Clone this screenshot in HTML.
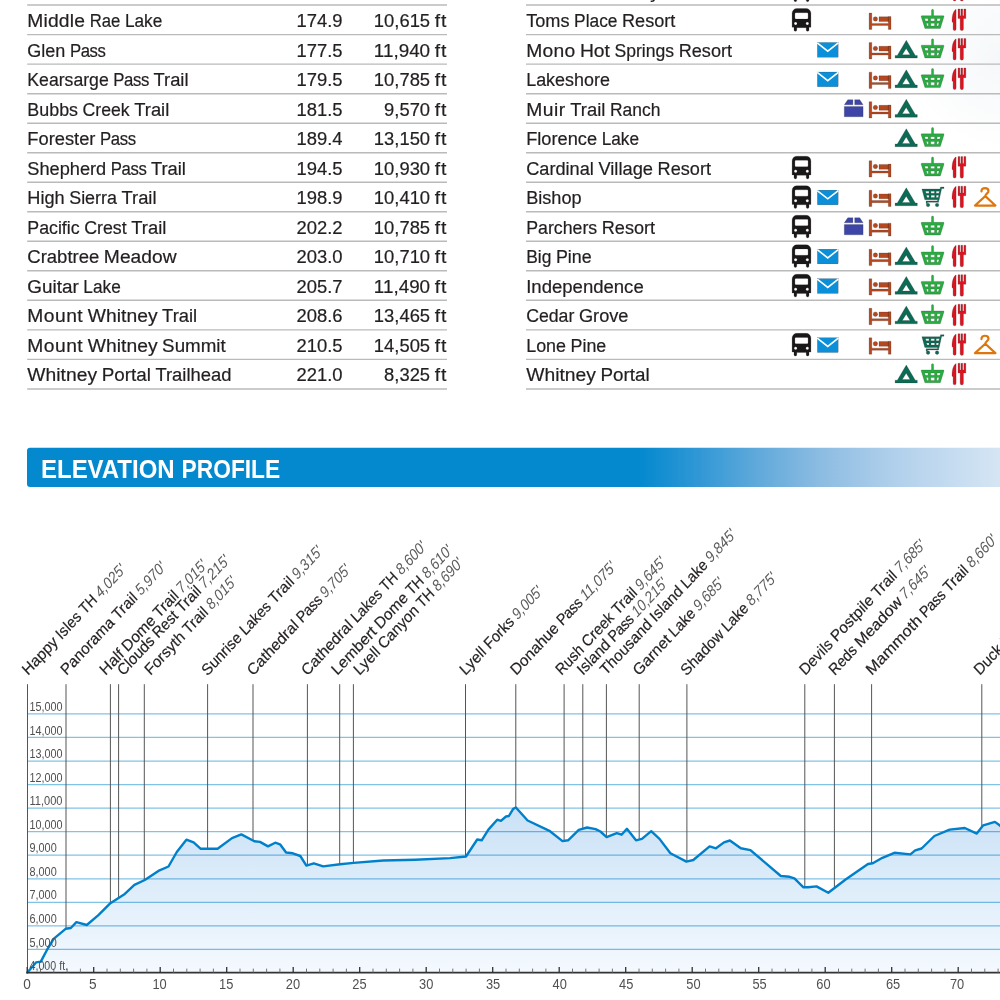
<!DOCTYPE html>
<html lang="en">
<head>
<meta charset="utf-8">
<title>John Muir Trail – Elevation Profile</title>
<style>
html,body{margin:0;padding:0;background:#fff;}
body{width:1000px;height:1000px;overflow:hidden;position:relative;font-family:"Liberation Sans",sans-serif;color:#231f20;}
#page{position:absolute;left:0;top:0;width:1000px;height:1000px;display:block;}
svg text{font-family:"Liberation Sans",sans-serif;white-space:pre;}
.tt{font-size:18px;fill:#231f20;stroke:#231f20;stroke-width:.2px;}
.hd{font-size:25px;font-weight:bold;fill:#fff;}
.yl{font-size:12.6px;fill:#505050;}
.xl{font-size:14.4px;fill:#505050;text-anchor:middle;}
.ln{font-size:14.95px;fill:#231f20;stroke:#231f20;stroke-width:.18px;}
.le{font-style:italic;fill:#5c5c5c;stroke:none;}
</style>
</head>
<body>

<svg id="page" width="1000" height="1000" viewBox="0 0 1000 1000">
<defs>
<linearGradient id="hb" x1="640" y1="0" x2="1000" y2="0" gradientUnits="userSpaceOnUse">
<stop offset="0" stop-color="#0489cf"/><stop offset="0.167" stop-color="#3298d5"/><stop offset="0.333" stop-color="#62aadb"/><stop offset="0.5" stop-color="#8cbce2"/><stop offset="0.72" stop-color="#b3d1ec"/><stop offset="1" stop-color="#d5e5f4"/>
</linearGradient>
<linearGradient id="pf" x1="0" y1="805" x2="0" y2="973" gradientUnits="userSpaceOnUse">
<stop offset="0" stop-color="#c9e1f6"/><stop offset="1" stop-color="#f4f9fe"/>
</linearGradient>
<radialGradient id="wm" cx="1000" cy="58" r="90" gradientUnits="userSpaceOnUse">
<stop offset="0" stop-color="#f5f8fa"/><stop offset="0.55" stop-color="#fafbfc"/><stop offset="1" stop-color="#ffffff"/>
</radialGradient>
<symbol id="i-bus" overflow="visible">
<path transform="translate(0 -.2)" fill="#1a1718" fill-rule="evenodd" d="M796.8 3.7h9.4a4.7 4.7 0 0 1 4.7 4.7V22.4H809V25a1.4 1.4 0 0 1-2.8 0V22.8H796.8V25a1.4 1.4 0 0 1-2.8 0V22.4H792.1V8.4a4.7 4.7 0 0 1 4.7-4.7zM795.9 7.8a1 1 0 0 0-1 1V13.2a1 1 0 0 0 1 1H807.1a1 1 0 0 0 1-1V8.8a1 1 0 0 0-1-1zM795.6 17.2a1.5 1.5 0 1 0 .01 0zM807.3 17.2a1.5 1.5 0 1 0 .01 0z"/>
</symbol>
<symbol id="i-mail" overflow="visible">
<rect x="817.4" y="7.9" width="20.7" height="14.7" fill="#0a8fd8"/>
<path d="M817.2 8.3L827.75 16.6L838.3 8.3" fill="none" stroke="#fff" stroke-width="1.6"/>
</symbol>
<symbol id="i-box" overflow="visible">
<path fill="#3d46a8" d="M847.8 6h5.1v5.1h-8.6zM854.7 6h5.1l3.3 5.1h-8.4zM844.3 12.8h18.8v10.3h-18.8z"/>
</symbol>
<symbol id="i-bed" overflow="visible">
<path fill="#b5481f" d="M869.1 8h2.7V18.3H888.3V11.4H891V24.3H888.3V20.4H871.8V24.3H869.1zM879 11.7h9.4v4.8H879z"/>
<circle cx="875.4" cy="13.8" r="2.25" fill="#b5481f"/>
</symbol>
<symbol id="i-tent" overflow="visible">
<path fill="#0d6a55" fill-rule="evenodd" d="M906.3 5.6L915.3 20.8H917.3V23.5H895.1V20.8H897.3zM906.2 13.9L902.3 20.2H910.1z"/>
</symbol>
<symbol id="i-basket" overflow="visible">
<path fill="#28ad41" fill-rule="evenodd" d="M931.5 5.3a1.05 1.05 0 0 1 2.1 0V10.6h9.6a.8 .8 0 0 1 .75 1.1L940.3 23.35H924.9L921.2 11.7a.8 .8 0 0 1 .75-1.1h9.55zM924.6 13.5l.75 2.4h2.8l-.1-2.4zM930.7 13.5v2.4h3.9v-2.4zM937.1 13.5l-.1 2.4h2.8l.75-2.4zM926.3 18.2l.8 2.8h1.3l-.1-2.8zM930.7 18.2l.1 2.8h3.7l.1-2.8zM936.9 18.2l-.1 2.8h1.5l.8-2.8z"/>
</symbol>
<symbol id="i-cart" overflow="visible">
<path fill="#0d6a55" fill-rule="evenodd" d="M921.9 6.8H940.1L940.5 4.8H944V6.3H941.7L939.2 17.6H938.9L938.7 18.8V20.1H927.4V21.3H926.1V18.8H937.4L937.6 17.6H924.8zM925.5 9l.55 2h3l-.1-2zM930.9 9v2h3.6v-2zM936.2 9l-.1 2h2.8l.55-2zM926.5 13.1l.6 2.1h2l-.1-2.1zM931 13.1l.05 2.1h3.6l.05-2.1zM936.3 13.1l-.1 2.1h2.1l.5-2.1z"/>
<circle cx="928.05" cy="22.8" r="1.8" fill="#0d6a55"/><circle cx="937.05" cy="22.8" r="1.8" fill="#0d6a55"/>
</symbol>
<symbol id="i-fork" overflow="visible">
<path fill="#dc1420" d="M956.1 4.3V23.9a1.5 1.5 0 0 1-3 0V17.6L952 16.6C952 11 953 6.5 955.6 4.3zM958.05 3.9h1.8v6.8h1.05V3.9h1.8v6.8h1.2V3.9h1.95v9.6h-2.4V23.9a1.65 1.65 0 0 1-3.3 0V13.5h-2.1z"/>
</symbol>
<symbol id="i-hanger" overflow="visible">
<path fill="none" stroke="#de760e" stroke-width="2.2" stroke-linejoin="round" stroke-linecap="round" d="M981.5 9.2C981.3 7 983 5.9 985 5.9C987.2 5.9 988.5 7.2 988.5 8.9C988.5 10.9 985.6 11.4 985.3 13.9L975 23.3H995.4L985.3 13.9"/>
</symbol>

</defs>
<rect x="905" y="6" width="95" height="140" fill="url(#wm)"/>
<g id="rules" stroke="#bababa" stroke-width="1.45" fill="none"><path d="M27.2 5.08H447M526 5.08H1000"/><path d="M27.2 34.60H447M526 34.60H1000"/><path d="M27.2 64.13H447M526 64.13H1000"/><path d="M27.2 93.65H447M526 93.65H1000"/><path d="M27.2 123.18H447M526 123.18H1000"/><path d="M27.2 152.71H447M526 152.71H1000"/><path d="M27.2 182.23H447M526 182.23H1000"/><path d="M27.2 211.75H447M526 211.75H1000"/><path d="M27.2 241.28H447M526 241.28H1000"/><path d="M27.2 270.80H447M526 270.80H1000"/><path d="M27.2 300.33H447M526 300.33H1000"/><path d="M27.2 329.85H447M526 329.85H1000"/><path d="M27.2 359.38H447M526 359.38H1000"/><path d="M27.2 388.90H447M526 388.90H1000"/></g>
<g id="waypoints" class="tt">
<text y="27.08"><tspan x="27.30" textLength="57.82" lengthAdjust="spacingAndGlyphs" style="letter-spacing:0.17px">Middle</tspan> <tspan x="89.69" textLength="30.69" lengthAdjust="spacingAndGlyphs">Rae</tspan> <tspan x="124.95" textLength="37.40" lengthAdjust="spacingAndGlyphs">Lake</tspan></text><text y="27.08"><tspan x="296.55" textLength="46.05" lengthAdjust="spacingAndGlyphs">174.9</tspan></text><text y="27.08"><tspan x="373.87" textLength="56.23" lengthAdjust="spacingAndGlyphs">10,615</tspan> <tspan x="434.66" textLength="12.54" lengthAdjust="spacingAndGlyphs" style="letter-spacing:0.85px">ft</tspan></text>
<text y="56.60"><tspan x="27.30" textLength="38.04" lengthAdjust="spacingAndGlyphs">Glen</tspan> <tspan x="69.91" textLength="35.62" lengthAdjust="spacingAndGlyphs" style="letter-spacing:-0.43px">Pass</tspan></text><text y="56.60"><tspan x="296.55" textLength="46.05" lengthAdjust="spacingAndGlyphs">177.5</tspan></text><text y="56.60"><tspan x="373.87" textLength="56.23" lengthAdjust="spacingAndGlyphs">11,940</tspan> <tspan x="434.66" textLength="12.54" lengthAdjust="spacingAndGlyphs" style="letter-spacing:0.85px">ft</tspan></text>
<text y="86.13"><tspan x="27.30" textLength="81.44" lengthAdjust="spacingAndGlyphs">Kearsarge</tspan> <tspan x="113.31" textLength="35.62" lengthAdjust="spacingAndGlyphs" style="letter-spacing:-0.43px">Pass</tspan> <tspan x="153.49" textLength="35.04" lengthAdjust="spacingAndGlyphs">Trail</tspan></text><text y="86.13"><tspan x="296.55" textLength="46.05" lengthAdjust="spacingAndGlyphs">179.5</tspan></text><text y="86.13"><tspan x="373.87" textLength="56.23" lengthAdjust="spacingAndGlyphs">10,785</tspan> <tspan x="434.66" textLength="12.54" lengthAdjust="spacingAndGlyphs" style="letter-spacing:0.85px">ft</tspan></text>
<text y="115.65"><tspan x="27.30" textLength="50.73" lengthAdjust="spacingAndGlyphs">Bubbs</tspan> <tspan x="82.59" textLength="47.10" lengthAdjust="spacingAndGlyphs">Creek</tspan> <tspan x="134.26" textLength="35.04" lengthAdjust="spacingAndGlyphs">Trail</tspan></text><text y="115.65"><tspan x="296.55" textLength="46.05" lengthAdjust="spacingAndGlyphs">181.5</tspan></text><text y="115.65"><tspan x="384.10" textLength="45.99" lengthAdjust="spacingAndGlyphs">9,570</tspan> <tspan x="434.66" textLength="12.54" lengthAdjust="spacingAndGlyphs" style="letter-spacing:0.85px">ft</tspan></text>
<text y="145.18"><tspan x="27.30" textLength="68.19" lengthAdjust="spacingAndGlyphs">Forester</tspan> <tspan x="100.06" textLength="35.62" lengthAdjust="spacingAndGlyphs" style="letter-spacing:-0.43px">Pass</tspan></text><text y="145.18"><tspan x="296.55" textLength="46.05" lengthAdjust="spacingAndGlyphs">189.4</tspan></text><text y="145.18"><tspan x="373.87" textLength="56.23" lengthAdjust="spacingAndGlyphs">13,150</tspan> <tspan x="434.66" textLength="12.54" lengthAdjust="spacingAndGlyphs" style="letter-spacing:0.85px">ft</tspan></text>
<text y="174.71"><tspan x="27.30" textLength="78.88" lengthAdjust="spacingAndGlyphs">Shepherd</tspan> <tspan x="110.74" textLength="35.62" lengthAdjust="spacingAndGlyphs" style="letter-spacing:-0.43px">Pass</tspan> <tspan x="150.93" textLength="35.04" lengthAdjust="spacingAndGlyphs">Trail</tspan></text><text y="174.71"><tspan x="296.55" textLength="46.05" lengthAdjust="spacingAndGlyphs">194.5</tspan></text><text y="174.71"><tspan x="373.87" textLength="56.23" lengthAdjust="spacingAndGlyphs">10,930</tspan> <tspan x="434.66" textLength="12.54" lengthAdjust="spacingAndGlyphs" style="letter-spacing:0.85px">ft</tspan></text>
<text y="204.23"><tspan x="27.30" textLength="37.34" lengthAdjust="spacingAndGlyphs">High</tspan> <tspan x="69.21" textLength="47.73" lengthAdjust="spacingAndGlyphs">Sierra</tspan> <tspan x="121.50" textLength="35.04" lengthAdjust="spacingAndGlyphs">Trail</tspan></text><text y="204.23"><tspan x="296.55" textLength="46.05" lengthAdjust="spacingAndGlyphs">198.9</tspan></text><text y="204.23"><tspan x="373.87" textLength="56.23" lengthAdjust="spacingAndGlyphs">10,410</tspan> <tspan x="434.66" textLength="12.54" lengthAdjust="spacingAndGlyphs" style="letter-spacing:0.85px">ft</tspan></text>
<text y="233.75"><tspan x="27.30" textLength="52.33" lengthAdjust="spacingAndGlyphs">Pacific</tspan> <tspan x="84.20" textLength="42.53" lengthAdjust="spacingAndGlyphs">Crest</tspan> <tspan x="131.30" textLength="35.04" lengthAdjust="spacingAndGlyphs">Trail</tspan></text><text y="233.75"><tspan x="296.55" textLength="46.05" lengthAdjust="spacingAndGlyphs">202.2</tspan></text><text y="233.75"><tspan x="373.87" textLength="56.23" lengthAdjust="spacingAndGlyphs">10,785</tspan> <tspan x="434.66" textLength="12.54" lengthAdjust="spacingAndGlyphs" style="letter-spacing:0.85px">ft</tspan></text>
<text y="263.28"><tspan x="27.30" textLength="72.01" lengthAdjust="spacingAndGlyphs">Crabtree</tspan> <tspan x="103.88" textLength="72.70" lengthAdjust="spacingAndGlyphs">Meadow</tspan></text><text y="263.28"><tspan x="296.55" textLength="46.05" lengthAdjust="spacingAndGlyphs">203.0</tspan></text><text y="263.28"><tspan x="373.87" textLength="56.23" lengthAdjust="spacingAndGlyphs">10,710</tspan> <tspan x="434.66" textLength="12.54" lengthAdjust="spacingAndGlyphs" style="letter-spacing:0.85px">ft</tspan></text>
<text y="292.80"><tspan x="27.30" textLength="51.48" lengthAdjust="spacingAndGlyphs">Guitar</tspan> <tspan x="83.34" textLength="37.40" lengthAdjust="spacingAndGlyphs">Lake</tspan></text><text y="292.80"><tspan x="296.55" textLength="46.05" lengthAdjust="spacingAndGlyphs">205.7</tspan></text><text y="292.80"><tspan x="373.87" textLength="56.23" lengthAdjust="spacingAndGlyphs">11,490</tspan> <tspan x="434.66" textLength="12.54" lengthAdjust="spacingAndGlyphs" style="letter-spacing:0.85px">ft</tspan></text>
<text y="322.33"><tspan x="27.30" textLength="55.91" lengthAdjust="spacingAndGlyphs" style="letter-spacing:0.45px">Mount</tspan> <tspan x="87.78" textLength="69.79" lengthAdjust="spacingAndGlyphs" style="letter-spacing:0.03px">Whitney</tspan> <tspan x="162.14" textLength="35.04" lengthAdjust="spacingAndGlyphs">Trail</tspan></text><text y="322.33"><tspan x="296.55" textLength="46.05" lengthAdjust="spacingAndGlyphs">208.6</tspan></text><text y="322.33"><tspan x="373.87" textLength="56.23" lengthAdjust="spacingAndGlyphs">13,465</tspan> <tspan x="434.66" textLength="12.54" lengthAdjust="spacingAndGlyphs" style="letter-spacing:0.85px">ft</tspan></text>
<text y="351.85"><tspan x="27.30" textLength="55.91" lengthAdjust="spacingAndGlyphs" style="letter-spacing:0.45px">Mount</tspan> <tspan x="87.78" textLength="69.79" lengthAdjust="spacingAndGlyphs" style="letter-spacing:0.03px">Whitney</tspan> <tspan x="162.14" textLength="63.57" lengthAdjust="spacingAndGlyphs">Summit</tspan></text><text y="351.85"><tspan x="296.55" textLength="46.05" lengthAdjust="spacingAndGlyphs">210.5</tspan></text><text y="351.85"><tspan x="373.87" textLength="56.23" lengthAdjust="spacingAndGlyphs">14,505</tspan> <tspan x="434.66" textLength="12.54" lengthAdjust="spacingAndGlyphs" style="letter-spacing:0.85px">ft</tspan></text>
<text y="381.38"><tspan x="27.30" textLength="69.79" lengthAdjust="spacingAndGlyphs" style="letter-spacing:0.03px">Whitney</tspan> <tspan x="101.66" textLength="49.21" lengthAdjust="spacingAndGlyphs">Portal</tspan> <tspan x="155.43" textLength="76.00" lengthAdjust="spacingAndGlyphs">Trailhead</tspan></text><text y="381.38"><tspan x="296.55" textLength="46.05" lengthAdjust="spacingAndGlyphs">221.0</tspan></text><text y="381.38"><tspan x="384.10" textLength="45.99" lengthAdjust="spacingAndGlyphs">8,325</tspan> <tspan x="434.66" textLength="12.54" lengthAdjust="spacingAndGlyphs" style="letter-spacing:0.85px">ft</tspan></text>
</g>
<g id="resupply" class="tt">
<text y="-2.45"><tspan x="526.20" textLength="79.86" lengthAdjust="spacingAndGlyphs" style="letter-spacing:0.07px">Vermilion</tspan> <tspan x="610.63" textLength="49.01" lengthAdjust="spacingAndGlyphs">Valley</tspan> <tspan x="664.21" textLength="53.38" lengthAdjust="spacingAndGlyphs">Resort</tspan></text><use href="#i-bus" y="-24.45"/><use href="#i-fork" y="-24.45"/>
<text y="27.08"><tspan x="526.20" textLength="43.35" lengthAdjust="spacingAndGlyphs">Toms</tspan> <tspan x="574.12" textLength="43.34" lengthAdjust="spacingAndGlyphs">Place</tspan> <tspan x="622.02" textLength="53.38" lengthAdjust="spacingAndGlyphs">Resort</tspan></text><use href="#i-bus" y="5.08"/><use href="#i-bed" y="5.08"/><use href="#i-basket" y="5.08"/><use href="#i-fork" y="5.08"/>
<text y="56.60"><tspan x="526.20" textLength="49.19" lengthAdjust="spacingAndGlyphs" style="letter-spacing:0.23px">Mono</tspan> <tspan x="579.95" textLength="30.00" lengthAdjust="spacingAndGlyphs">Hot</tspan> <tspan x="614.53" textLength="59.59" lengthAdjust="spacingAndGlyphs">Springs</tspan> <tspan x="678.69" textLength="53.38" lengthAdjust="spacingAndGlyphs">Resort</tspan></text><use href="#i-mail" y="34.60"/><use href="#i-bed" y="34.60"/><use href="#i-tent" y="34.60"/><use href="#i-basket" y="34.60"/><use href="#i-fork" y="34.60"/>
<text y="86.13"><tspan x="526.20" textLength="83.66" lengthAdjust="spacingAndGlyphs">Lakeshore</tspan></text><use href="#i-mail" y="64.13"/><use href="#i-bed" y="64.13"/><use href="#i-tent" y="64.13"/><use href="#i-basket" y="64.13"/><use href="#i-fork" y="64.13"/>
<text y="115.65"><tspan x="526.20" textLength="39.56" lengthAdjust="spacingAndGlyphs" style="letter-spacing:0.49px">Muir</tspan> <tspan x="570.33" textLength="35.04" lengthAdjust="spacingAndGlyphs">Trail</tspan> <tspan x="609.94" textLength="50.41" lengthAdjust="spacingAndGlyphs">Ranch</tspan></text><use href="#i-box" y="93.65"/><use href="#i-bed" y="93.65"/><use href="#i-tent" y="93.65"/>
<text y="145.18"><tspan x="526.20" textLength="70.87" lengthAdjust="spacingAndGlyphs">Florence</tspan> <tspan x="601.63" textLength="37.40" lengthAdjust="spacingAndGlyphs">Lake</tspan></text><use href="#i-tent" y="123.18"/><use href="#i-basket" y="123.18"/>
<text y="174.71"><tspan x="526.20" textLength="67.66" lengthAdjust="spacingAndGlyphs">Cardinal</tspan> <tspan x="598.43" textLength="54.60" lengthAdjust="spacingAndGlyphs">Village</tspan> <tspan x="657.60" textLength="53.38" lengthAdjust="spacingAndGlyphs">Resort</tspan></text><use href="#i-bus" y="152.71"/><use href="#i-bed" y="152.71"/><use href="#i-basket" y="152.71"/><use href="#i-fork" y="152.71"/>
<text y="204.23"><tspan x="526.20" textLength="55.40" lengthAdjust="spacingAndGlyphs">Bishop</tspan></text><use href="#i-bus" y="182.23"/><use href="#i-mail" y="182.23"/><use href="#i-bed" y="182.23"/><use href="#i-tent" y="182.23"/><use href="#i-cart" y="182.23"/><use href="#i-fork" y="182.23"/><use href="#i-hanger" y="182.23"/>
<text y="233.75"><tspan x="526.20" textLength="71.01" lengthAdjust="spacingAndGlyphs">Parchers</tspan> <tspan x="601.77" textLength="53.38" lengthAdjust="spacingAndGlyphs">Resort</tspan></text><use href="#i-bus" y="211.75"/><use href="#i-box" y="211.75"/><use href="#i-bed" y="211.75"/><use href="#i-basket" y="211.75"/>
<text y="263.28"><tspan x="526.20" textLength="25.13" lengthAdjust="spacingAndGlyphs">Big</tspan> <tspan x="555.90" textLength="35.73" lengthAdjust="spacingAndGlyphs">Pine</tspan></text><use href="#i-bus" y="241.28"/><use href="#i-mail" y="241.28"/><use href="#i-bed" y="241.28"/><use href="#i-tent" y="241.28"/><use href="#i-basket" y="241.28"/><use href="#i-fork" y="241.28"/>
<text y="292.80"><tspan x="526.20" textLength="117.51" lengthAdjust="spacingAndGlyphs">Independence</tspan></text><use href="#i-bus" y="270.80"/><use href="#i-mail" y="270.80"/><use href="#i-bed" y="270.80"/><use href="#i-tent" y="270.80"/><use href="#i-basket" y="270.80"/><use href="#i-fork" y="270.80"/>
<text y="322.33"><tspan x="526.20" textLength="48.15" lengthAdjust="spacingAndGlyphs">Cedar</tspan> <tspan x="578.92" textLength="49.61" lengthAdjust="spacingAndGlyphs">Grove</tspan></text><use href="#i-bed" y="300.33"/><use href="#i-tent" y="300.33"/><use href="#i-basket" y="300.33"/><use href="#i-fork" y="300.33"/>
<text y="351.85"><tspan x="526.20" textLength="39.81" lengthAdjust="spacingAndGlyphs">Lone</tspan> <tspan x="570.57" textLength="35.73" lengthAdjust="spacingAndGlyphs">Pine</tspan></text><use href="#i-bus" y="329.85"/><use href="#i-mail" y="329.85"/><use href="#i-bed" y="329.85"/><use href="#i-cart" y="329.85"/><use href="#i-fork" y="329.85"/><use href="#i-hanger" y="329.85"/>
<text y="381.38"><tspan x="526.20" textLength="69.79" lengthAdjust="spacingAndGlyphs" style="letter-spacing:0.03px">Whitney</tspan> <tspan x="600.56" textLength="49.21" lengthAdjust="spacingAndGlyphs">Portal</tspan></text><use href="#i-tent" y="359.38"/><use href="#i-basket" y="359.38"/><use href="#i-fork" y="359.38"/>
</g>
<path d="M30 447.8H1010V487H30a3 3 0 0 1-3-3V450.8a3 3 0 0 1 3-3z" fill="url(#hb)"/>
<text class="hd" y="477.6"><tspan x="41.0" textLength="133.6" lengthAdjust="spacingAndGlyphs">ELEVATION</tspan> <tspan x="181.6" textLength="98.6" lengthAdjust="spacingAndGlyphs">PROFILE</tspan></text>
<g stroke="#80c3e7" stroke-width="1.25" fill="none"><path d="M27.4 713.90H1000"/><path d="M27.4 737.45H1000"/><path d="M27.4 761.00H1000"/><path d="M27.4 784.55H1000"/><path d="M27.4 808.10H1000"/><path d="M27.4 831.65H1000"/><path d="M27.4 855.20H1000"/><path d="M27.4 878.75H1000"/><path d="M27.4 902.30H1000"/><path d="M27.4 925.85H1000"/><path d="M27.4 949.40H1000"/></g>
<polygon points="27.4,972.6 36.0,962.4 40.8,961.6 47.6,948.8 53.6,938.8 65.6,928.8 70.8,928.0 76.4,922.2 86.8,925.0 98.4,915.2 110.4,903.2 124.8,893.9 134.4,884.8 144.8,880.0 158.4,870.9 168.5,866.5 176.8,852.0 186.4,839.7 193.6,842.4 200.8,848.8 217.6,848.8 232.0,838.1 241.3,834.4 254.4,841.3 260.0,841.9 268.0,846.4 275.2,842.7 280.0,844.3 286.1,852.5 292.8,853.3 300.3,856.0 306.4,865.6 313.8,863.3 323.2,866.4 340.0,864.3 353.6,862.9 383.2,860.5 415.2,859.7 450.0,858.1 466.0,856.5 477.2,839.5 481.7,840.3 488.4,829.6 497.2,819.7 500.9,820.8 506.0,816.5 508.9,816.0 513.2,808.8 515.9,807.5 527.6,820.5 550.0,831.2 562.5,841.1 568.1,840.3 578.8,829.9 587.1,827.5 595.6,829.1 600.4,831.5 606.6,837.1 616.8,833.1 621.6,834.7 626.9,828.8 636.0,840.3 641.9,838.9 651.2,831.2 659.5,838.9 670.4,853.3 686.4,861.6 693.3,860.0 709.6,846.4 716.0,848.3 724.0,842.4 729.9,840.5 740.8,848.3 750.4,850.1 780.8,876.0 789.6,876.8 794.4,878.4 803.2,887.2 808.0,887.2 816.5,886.4 828.3,892.8 845.6,879.5 868.0,864.0 872.8,863.3 882.4,857.8 894.4,852.8 910.4,854.4 915.2,850.4 921.6,848.5 934.4,836.0 949.6,829.6 964.8,828.0 976.8,833.6 983.2,825.3 994.9,821.9 1000.0,825.6 1006.0,832.0 1006,972.6 27.4,972.6" fill="url(#pf)" style="mix-blend-mode:multiply"/>
<g stroke="#555" stroke-width="1" fill="none"><path d="M27.5 684.2V972.6"/><path d="M66.0 684.2V928.7"/><path d="M110.4 684.2V903.2"/><path d="M118.6 684.2V897.9"/><path d="M144.3 684.2V880.2"/><path d="M207.6 684.2V848.8"/><path d="M253.0 684.2V840.6"/><path d="M307.4 684.2V865.3"/><path d="M339.7 684.2V864.3"/><path d="M353.4 684.2V862.9"/><path d="M465.5 684.2V856.5"/><path d="M515.8 684.2V807.5"/><path d="M564.1 684.2V840.9"/><path d="M582.8 684.2V828.7"/><path d="M606.4 684.2V836.9"/><path d="M639.2 684.2V839.5"/><path d="M686.9 684.2V861.5"/><path d="M804.8 684.2V887.2"/><path d="M834.4 684.2V888.1"/><path d="M871.6 684.2V863.5"/><path d="M981.8 684.2V827.1"/></g>
<polyline points="27.4,972.6 36.0,962.4 40.8,961.6 47.6,948.8 53.6,938.8 65.6,928.8 70.8,928.0 76.4,922.2 86.8,925.0 98.4,915.2 110.4,903.2 124.8,893.9 134.4,884.8 144.8,880.0 158.4,870.9 168.5,866.5 176.8,852.0 186.4,839.7 193.6,842.4 200.8,848.8 217.6,848.8 232.0,838.1 241.3,834.4 254.4,841.3 260.0,841.9 268.0,846.4 275.2,842.7 280.0,844.3 286.1,852.5 292.8,853.3 300.3,856.0 306.4,865.6 313.8,863.3 323.2,866.4 340.0,864.3 353.6,862.9 383.2,860.5 415.2,859.7 450.0,858.1 466.0,856.5 477.2,839.5 481.7,840.3 488.4,829.6 497.2,819.7 500.9,820.8 506.0,816.5 508.9,816.0 513.2,808.8 515.9,807.5 527.6,820.5 550.0,831.2 562.5,841.1 568.1,840.3 578.8,829.9 587.1,827.5 595.6,829.1 600.4,831.5 606.6,837.1 616.8,833.1 621.6,834.7 626.9,828.8 636.0,840.3 641.9,838.9 651.2,831.2 659.5,838.9 670.4,853.3 686.4,861.6 693.3,860.0 709.6,846.4 716.0,848.3 724.0,842.4 729.9,840.5 740.8,848.3 750.4,850.1 780.8,876.0 789.6,876.8 794.4,878.4 803.2,887.2 808.0,887.2 816.5,886.4 828.3,892.8 845.6,879.5 868.0,864.0 872.8,863.3 882.4,857.8 894.4,852.8 910.4,854.4 915.2,850.4 921.6,848.5 934.4,836.0 949.6,829.6 964.8,828.0 976.8,833.6 983.2,825.3 994.9,821.9 1000.0,825.6 1006.0,832.0" fill="none" stroke="#0080cb" stroke-width="2.4" stroke-linejoin="round" stroke-linecap="round"/>
<g fill="none" stroke="#333"><path d="M26.4 972.6H1000" stroke-width="1.6"/><path d="M27.2 966.9V972.6M93.7 966.9V972.6M160.2 966.9V972.6M226.7 966.9V972.6M293.2 966.9V972.6M359.7 966.9V972.6M426.2 966.9V972.6M492.7 966.9V972.6M559.2 966.9V972.6M625.7 966.9V972.6M692.2 966.9V972.6M758.7 966.9V972.6M825.2 966.9V972.6M891.7 966.9V972.6M958.2 966.9V972.6" stroke-width="1.3"/><path d="M40.5 968.6V972.6M53.8 968.6V972.6M67.1 968.6V972.6M80.4 968.6V972.6M107.0 968.6V972.6M120.3 968.6V972.6M133.6 968.6V972.6M146.9 968.6V972.6M173.5 968.6V972.6M186.8 968.6V972.6M200.1 968.6V972.6M213.4 968.6V972.6M240.0 968.6V972.6M253.3 968.6V972.6M266.6 968.6V972.6M279.9 968.6V972.6M306.5 968.6V972.6M319.8 968.6V972.6M333.1 968.6V972.6M346.4 968.6V972.6M373.0 968.6V972.6M386.3 968.6V972.6M399.6 968.6V972.6M412.9 968.6V972.6M439.5 968.6V972.6M452.8 968.6V972.6M466.1 968.6V972.6M479.4 968.6V972.6M506.0 968.6V972.6M519.3 968.6V972.6M532.6 968.6V972.6M545.9 968.6V972.6M572.5 968.6V972.6M585.8 968.6V972.6M599.1 968.6V972.6M612.4 968.6V972.6M639.0 968.6V972.6M652.3 968.6V972.6M665.6 968.6V972.6M678.9 968.6V972.6M705.5 968.6V972.6M718.8 968.6V972.6M732.1 968.6V972.6M745.4 968.6V972.6M772.0 968.6V972.6M785.3 968.6V972.6M798.6 968.6V972.6M811.9 968.6V972.6M838.5 968.6V972.6M851.8 968.6V972.6M865.1 968.6V972.6M878.4 968.6V972.6M905.0 968.6V972.6M918.3 968.6V972.6M931.6 968.6V972.6M944.9 968.6V972.6M971.5 968.6V972.6M984.8 968.6V972.6M998.1 968.6V972.6M1011.4 968.6V972.6" stroke-width="0.9" stroke="#666"/></g>
<g class="yl"><text x="29.5" y="711.0" textLength="33.0" lengthAdjust="spacingAndGlyphs">15,000</text><text x="29.5" y="734.5" textLength="33.0" lengthAdjust="spacingAndGlyphs">14,000</text><text x="29.5" y="758.1" textLength="33.0" lengthAdjust="spacingAndGlyphs">13,000</text><text x="29.5" y="781.6" textLength="33.0" lengthAdjust="spacingAndGlyphs">12,000</text><text x="29.5" y="805.2" textLength="33.0" lengthAdjust="spacingAndGlyphs">11,000</text><text x="29.5" y="828.8" textLength="33.0" lengthAdjust="spacingAndGlyphs">10,000</text><text x="29.5" y="852.3" textLength="27.2" lengthAdjust="spacingAndGlyphs">9,000</text><text x="29.5" y="875.9" textLength="27.2" lengthAdjust="spacingAndGlyphs">8,000</text><text x="29.5" y="899.4" textLength="27.2" lengthAdjust="spacingAndGlyphs">7,000</text><text x="29.5" y="923.0" textLength="27.2" lengthAdjust="spacingAndGlyphs">6,000</text><text x="29.5" y="946.5" textLength="27.2" lengthAdjust="spacingAndGlyphs">5,000</text><text x="29.5" y="969.6" textLength="38.6" lengthAdjust="spacingAndGlyphs">4,000 ft.</text></g>
<g class="xl"><text x="27.10" y="988.9" textLength="7.6" lengthAdjust="spacingAndGlyphs">0</text><text x="92.90" y="988.9" textLength="7.6" lengthAdjust="spacingAndGlyphs">5</text><text x="159.60" y="988.9" textLength="14.3" lengthAdjust="spacingAndGlyphs">10</text><text x="226.25" y="988.9" textLength="14.3" lengthAdjust="spacingAndGlyphs">15</text><text x="292.90" y="988.9" textLength="14.3" lengthAdjust="spacingAndGlyphs">20</text><text x="359.40" y="988.9" textLength="14.3" lengthAdjust="spacingAndGlyphs">25</text><text x="426.25" y="988.9" textLength="14.3" lengthAdjust="spacingAndGlyphs">30</text><text x="493.10" y="988.9" textLength="14.3" lengthAdjust="spacingAndGlyphs">35</text><text x="559.75" y="988.9" textLength="14.3" lengthAdjust="spacingAndGlyphs">40</text><text x="626.25" y="988.9" textLength="14.3" lengthAdjust="spacingAndGlyphs">45</text><text x="693.40" y="988.9" textLength="14.3" lengthAdjust="spacingAndGlyphs">50</text><text x="759.60" y="988.9" textLength="14.3" lengthAdjust="spacingAndGlyphs">55</text><text x="823.40" y="988.9" textLength="14.3" lengthAdjust="spacingAndGlyphs">60</text><text x="893.10" y="988.9" textLength="14.3" lengthAdjust="spacingAndGlyphs">65</text><text x="957.10" y="988.9" textLength="14.3" lengthAdjust="spacingAndGlyphs">70</text></g>
<g class="ln">
<g transform="translate(28.1 676.0) scale(1 1.072) rotate(-45)"><text><tspan x="0.00" textLength="43.51" lengthAdjust="spacingAndGlyphs">Happy</tspan> <tspan x="47.29" textLength="29.41" lengthAdjust="spacingAndGlyphs">Isles</tspan> <tspan x="80.47" textLength="18.54" lengthAdjust="spacingAndGlyphs">TH</tspan></text><text class="le" x="102.62" textLength="36.50" lengthAdjust="spacingAndGlyphs">4,025&#x27;</text></g>
<g transform="translate(66.4 676.0) scale(1 1.072) rotate(-45)"><text><tspan x="0.00" textLength="69.12" lengthAdjust="spacingAndGlyphs">Panorama</tspan> <tspan x="72.90" textLength="28.97" lengthAdjust="spacingAndGlyphs">Trail</tspan></text><text class="le" x="105.47" textLength="36.50" lengthAdjust="spacingAndGlyphs">5,970&#x27;</text></g>
<g transform="translate(105.6 676.0) scale(1 1.072) rotate(-45)"><text><tspan x="0.00" textLength="27.33" lengthAdjust="spacingAndGlyphs">Half</tspan> <tspan x="31.11" textLength="40.73" lengthAdjust="spacingAndGlyphs">Dome</tspan> <tspan x="75.61" textLength="28.97" lengthAdjust="spacingAndGlyphs">Trail</tspan></text><text class="le" x="108.19" textLength="36.50" lengthAdjust="spacingAndGlyphs">7,015&#x27;</text></g>
<g transform="translate(123.3 676.5) scale(1 1.072) rotate(-45)"><text><tspan x="0.00" textLength="45.62" lengthAdjust="spacingAndGlyphs">Clouds</tspan> <tspan x="49.40" textLength="29.50" lengthAdjust="spacingAndGlyphs">Rest</tspan> <tspan x="82.68" textLength="28.97" lengthAdjust="spacingAndGlyphs">Trail</tspan></text><text class="le" x="115.25" textLength="36.50" lengthAdjust="spacingAndGlyphs">7,215&#x27;</text></g>
<g transform="translate(150.4 676.0) scale(1 1.072) rotate(-45)"><text><tspan x="0.00" textLength="50.27" lengthAdjust="spacingAndGlyphs">Forsyth</tspan> <tspan x="54.05" textLength="28.97" lengthAdjust="spacingAndGlyphs">Trail</tspan></text><text class="le" x="86.62" textLength="36.50" lengthAdjust="spacingAndGlyphs">8,015&#x27;</text></g>
<g transform="translate(207.6 676.5) scale(1 1.072) rotate(-45)"><text><tspan x="0.00" textLength="49.72" lengthAdjust="spacingAndGlyphs">Sunrise</tspan> <tspan x="53.49" textLength="37.45" lengthAdjust="spacingAndGlyphs">Lakes</tspan> <tspan x="94.72" textLength="28.97" lengthAdjust="spacingAndGlyphs">Trail</tspan></text><text class="le" x="127.29" textLength="36.50" lengthAdjust="spacingAndGlyphs">9,315&#x27;</text></g>
<g transform="translate(252.9 676.5) scale(1 1.072) rotate(-45)"><text><tspan x="0.00" textLength="66.01" lengthAdjust="spacingAndGlyphs">Cathedral</tspan> <tspan x="69.78" textLength="29.45" lengthAdjust="spacingAndGlyphs" style="letter-spacing:-0.39px">Pass</tspan></text><text class="le" x="102.83" textLength="36.50" lengthAdjust="spacingAndGlyphs">9,705&#x27;</text></g>
<g transform="translate(307.3 676.5) scale(1 1.072) rotate(-45)"><text><tspan x="0.00" textLength="66.01" lengthAdjust="spacingAndGlyphs">Cathedral</tspan> <tspan x="69.78" textLength="37.45" lengthAdjust="spacingAndGlyphs">Lakes</tspan> <tspan x="111.01" textLength="18.54" lengthAdjust="spacingAndGlyphs">TH</tspan></text><text class="le" x="133.16" textLength="36.50" lengthAdjust="spacingAndGlyphs">8,600&#x27;</text></g>
<g transform="translate(337.2 676.0) scale(1 1.072) rotate(-45)"><text><tspan x="0.00" textLength="57.17" lengthAdjust="spacingAndGlyphs">Lembert</tspan> <tspan x="60.95" textLength="40.73" lengthAdjust="spacingAndGlyphs">Dome</tspan> <tspan x="105.45" textLength="18.54" lengthAdjust="spacingAndGlyphs">TH</tspan></text><text class="le" x="127.59" textLength="36.50" lengthAdjust="spacingAndGlyphs">8,610&#x27;</text></g>
<g transform="translate(359.6 676.0) scale(1 1.072) rotate(-45)"><text><tspan x="0.00" textLength="30.39" lengthAdjust="spacingAndGlyphs">Lyell</tspan> <tspan x="34.17" textLength="50.82" lengthAdjust="spacingAndGlyphs">Canyon</tspan> <tspan x="88.76" textLength="18.54" lengthAdjust="spacingAndGlyphs">TH</tspan></text><text class="le" x="110.90" textLength="36.50" lengthAdjust="spacingAndGlyphs">8,690&#x27;</text></g>
<g transform="translate(465.6 676.0) scale(1 1.072) rotate(-45)"><text><tspan x="0.00" textLength="30.39" lengthAdjust="spacingAndGlyphs">Lyell</tspan> <tspan x="34.17" textLength="35.94" lengthAdjust="spacingAndGlyphs">Forks</tspan></text><text class="le" x="73.70" textLength="36.50" lengthAdjust="spacingAndGlyphs">9,005&#x27;</text></g>
<g transform="translate(516.2 676.0) scale(1 1.072) rotate(-45)"><text><tspan x="0.00" textLength="61.71" lengthAdjust="spacingAndGlyphs">Donahue</tspan> <tspan x="65.49" textLength="29.45" lengthAdjust="spacingAndGlyphs" style="letter-spacing:-0.39px">Pass</tspan></text><text class="le" x="98.53" textLength="43.90" lengthAdjust="spacingAndGlyphs">11,075&#x27;</text></g>
<g transform="translate(561.4 676.0) scale(1 1.072) rotate(-45)"><text><tspan x="0.00" textLength="33.15" lengthAdjust="spacingAndGlyphs">Rush</tspan> <tspan x="36.92" textLength="38.94" lengthAdjust="spacingAndGlyphs">Creek</tspan> <tspan x="79.63" textLength="28.97" lengthAdjust="spacingAndGlyphs">Trail</tspan></text><text class="le" x="112.21" textLength="36.50" lengthAdjust="spacingAndGlyphs">9,645&#x27;</text></g>
<g transform="translate(582.9 676.0) scale(1 1.072) rotate(-45)"><text><tspan x="0.00" textLength="40.12" lengthAdjust="spacingAndGlyphs">Island</tspan> <tspan x="43.89" textLength="29.45" lengthAdjust="spacingAndGlyphs" style="letter-spacing:-0.39px">Pass</tspan></text><text class="le" x="76.94" textLength="43.90" lengthAdjust="spacingAndGlyphs">10,215&#x27;</text></g>
<g transform="translate(605.9 676.0) scale(1 1.072) rotate(-45)"><text><tspan x="0.00" textLength="66.57" lengthAdjust="spacingAndGlyphs">Thousand</tspan> <tspan x="70.35" textLength="40.12" lengthAdjust="spacingAndGlyphs">Island</tspan> <tspan x="114.24" textLength="30.92" lengthAdjust="spacingAndGlyphs">Lake</tspan></text><text class="le" x="148.76" textLength="36.50" lengthAdjust="spacingAndGlyphs">9,845&#x27;</text></g>
<g transform="translate(638.7 676.5) scale(1 1.072) rotate(-45)"><text><tspan x="0.00" textLength="47.03" lengthAdjust="spacingAndGlyphs">Garnet</tspan> <tspan x="50.81" textLength="30.92" lengthAdjust="spacingAndGlyphs">Lake</tspan></text><text class="le" x="85.33" textLength="36.50" lengthAdjust="spacingAndGlyphs">9,685&#x27;</text></g>
<g transform="translate(686.6 676.5) scale(1 1.072) rotate(-45)"><text><tspan x="0.00" textLength="53.97" lengthAdjust="spacingAndGlyphs">Shadow</tspan> <tspan x="57.74" textLength="30.92" lengthAdjust="spacingAndGlyphs">Lake</tspan></text><text class="le" x="92.26" textLength="36.50" lengthAdjust="spacingAndGlyphs">8,775&#x27;</text></g>
<g transform="translate(805.2 676.0) scale(1 1.072) rotate(-45)"><text><tspan x="0.00" textLength="40.32" lengthAdjust="spacingAndGlyphs">Devils</tspan> <tspan x="44.10" textLength="54.31" lengthAdjust="spacingAndGlyphs">Postpile</tspan> <tspan x="102.18" textLength="28.97" lengthAdjust="spacingAndGlyphs">Trail</tspan></text><text class="le" x="134.75" textLength="36.50" lengthAdjust="spacingAndGlyphs">7,685&#x27;</text></g>
<g transform="translate(834.8 676.0) scale(1 1.072) rotate(-45)"><text><tspan x="0.00" textLength="32.68" lengthAdjust="spacingAndGlyphs">Reds</tspan> <tspan x="36.46" textLength="60.11" lengthAdjust="spacingAndGlyphs">Meadow</tspan></text><text class="le" x="100.16" textLength="36.50" lengthAdjust="spacingAndGlyphs">7,645&#x27;</text></g>
<g transform="translate(871.8 676.0) scale(1 1.072) rotate(-45)"><text><tspan x="0.00" textLength="72.13" lengthAdjust="spacingAndGlyphs" style="letter-spacing:0.14px">Mammoth</tspan> <tspan x="75.91" textLength="29.45" lengthAdjust="spacingAndGlyphs" style="letter-spacing:-0.39px">Pass</tspan> <tspan x="109.13" textLength="28.97" lengthAdjust="spacingAndGlyphs">Trail</tspan></text><text class="le" x="141.70" textLength="36.50" lengthAdjust="spacingAndGlyphs">8,660&#x27;</text></g>
<g transform="translate(979.7 676.0) scale(1 1.072) rotate(-45)"><text><tspan x="0.00" textLength="33.70" lengthAdjust="spacingAndGlyphs">Duck</tspan> <tspan x="37.48" textLength="29.45" lengthAdjust="spacingAndGlyphs" style="letter-spacing:-0.39px">Pass</tspan> <tspan x="70.70" textLength="28.97" lengthAdjust="spacingAndGlyphs">Trail</tspan></text></g>
</g>
</svg>
</body>
</html>
